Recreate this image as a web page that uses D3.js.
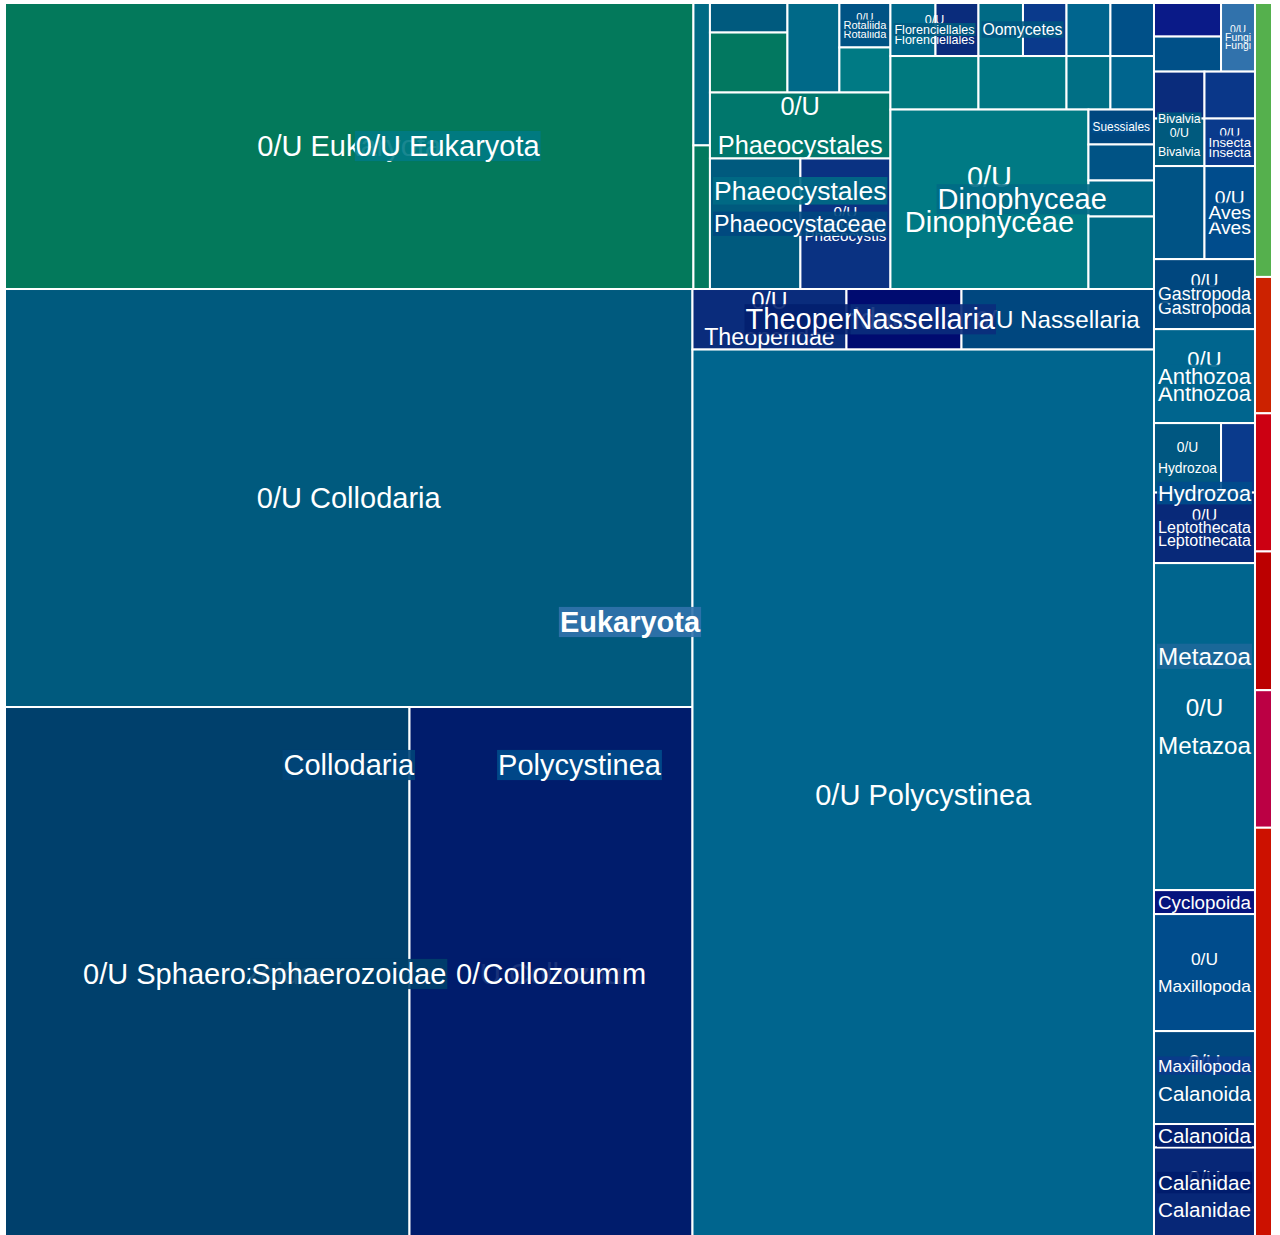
<!DOCTYPE html>
<html>
<head>
<meta charset="utf-8">
<script src="https://cdn.jsdelivr.net/npm/d3@7"></script>
<style>
  html, body { margin: 0; padding: 0; background: #ffffff; }
  svg { display: block; }
</style>
</head>
<body>
<svg id="chart" width="1280" height="1235"></svg>
<script>
// ---------------- DATA ----------------
// Each row: [id, parentId, label, value (leaf size), colour score]
// Groups carry value 0; leaf sizes were estimated from the rectangle areas.
const rootRows = [
  ["root", null, "", 0, 0],
  ["euk", "root", "Eukaryota", 0, 0.45],
  ["A", "euk", "", 0, 0],
  ["top", "A", "", 0, 0]
];

const topLeftRows = [
  ["g1", "top", "0/U Eukaryota", 0, 0.2],
  ["l_euk", "g1", "0/U Eukaryota", 19691, 0.0],
  ["strip", "g1", "", 0, 0],
  ["s1", "strip", "", 235, 0.3],
  ["s2", "strip", "", 237, 0.02],
  ["col", "g1", "", 0, 0],
  ["tb", "col", "", 0, 0],
  ["c1", "tb", "", 0, 0],
  ["c1a", "c1", "", 229, 0.5],
  ["c1b", "c1", "", 465, 0.03],
  ["c2", "tb", "", 465, 0.33],
  ["c3", "tb", "", 0, 0],
  ["rot", "c3", "Rotaliida", 0, 0.55],
  ["l_rot", "rot", "0/U Rotaliida", 227, 0.55],
  ["c3b", "c3", "", 230, 0.2],
  ["pha", "col", "Phaeocystales", 0, 0.3],
  ["l_pha", "pha", "0/U Phaeocystales", 1191, 0.1],
  ["phc", "pha", "Phaeocystaceae", 0, 0.62],
  ["phc1", "phc", "", 1181, 0.5],
  ["phs", "phc", "Phaeocystis", 0, 0.78],
  ["l_phs", "phs", "0/U Phaeocystis", 1175, 0.76]
];

const topRightRows = [
  ["g2", "top", "", 0, 0],
  ["r1", "g2", "", 0, 0],
  ["flo", "r1", "Florenciellales", 0, 0.5],
  ["l_flo", "flo", "0/U Florenciellales", 239, 0.35],
  ["flo2", "flo", "", 228, 0.8],
  ["oom", "r1", "Oomycetes", 0, 0.52],
  ["oom1", "oom", "", 236, 0.3],
  ["oom2", "oom", "", 231, 0.7],
  ["r1c", "r1", "", 233, 0.4],
  ["r1d", "r1", "", 231, 0.57],
  ["r2", "g2", "", 0, 0],
  ["r2a", "r2", "", 471, 0.18],
  ["r2b", "r2", "", 471, 0.22],
  ["r2c", "r2", "", 235, 0.27],
  ["r2d", "r2", "", 233, 0.4],
  ["din", "g2", "Dinophyceae", 0, 0.3],
  ["l_din", "din", "0/U Dinophyceae", 3554, 0.2],
  ["dc", "din", "", 0, 0],
  ["sue", "dc", "Suessiales", 0, 0.6],
  ["sue1", "sue", "", 229, 0.62],
  ["dc2", "dc", "", 236, 0.55],
  ["dc3", "dc", "", 236, 0.33],
  ["dc4", "dc", "", 475, 0.3]
];

const radiolariaRows = [
  ["poly", "A", "Polycystinea", 0, 0.6],
  ["coll", "poly", "Collodaria", 0, 0.63],
  ["l_coll", "coll", "0/U Collodaria", 28738, 0.5],
  ["sph", "coll", "Sphaerozoidae", 0, 0.65],
  ["l_sph", "sph", "0/U Sphaerozoidae", 21600, 0.65],
  ["clz", "sph", "Collozoum", 0, 0.9],
  ["l_clz", "clz", "0/U Collozoum", 15112, 0.9],
  ["pr", "poly", "", 0, 0],
  ["nas", "pr", "Nassellaria", 0, 0.8],
  ["the", "nas", "Theoperidae", 0, 0.88],
  ["l_the", "the", "0/U Theoperidae", 932, 0.8],
  ["the2", "the", "", 696, 1.0],
  ["l_nas", "nas", "0/U Nassellaria", 1165, 0.62],
  ["l_poly", "pr", "0/U Polycystinea", 41143, 0.4]
];

const opisthokontaRows = [
  ["opi", "euk", "", 0, 0],
  ["fr", "opi", "", 0, 0],
  ["fl", "fr", "", 0, 0],
  ["fl1", "fl", "", 225, 0.95],
  ["fl2", "fl", "", 235, 0.57],
  ["fun", "fr", "Fungi", 0, 0.45],
  ["l_fun", "fun", "0/U Fungi", 233, 0.45],
  ["met", "opi", "Metazoa", 0, 0.47],
  ["m1", "met", "", 0, 0],
  ["biv", "m1", "Bivalvia", 0, 0.5],
  ["biv1", "biv", "", 237, 0.8],
  ["l_biv", "biv", "0/U Bivalvia", 240, 0.5],
  ["m1r", "m1", "", 0, 0],
  ["m1r1", "m1r", "", 237, 0.72],
  ["ins", "m1r", "Insecta", 0, 0.7],
  ["l_ins", "ins", "0/U Insecta", 240, 0.7],
  ["m2", "met", "", 0, 0],
  ["m2a", "m2", "", 470, 0.55],
  ["ave", "m2", "Aves", 0, 0.6],
  ["l_ave", "ave", "0/U Aves", 470, 0.6],
  ["gas", "met", "Gastropoda", 0, 0.62],
  ["l_gas", "gas", "0/U Gastropoda", 707, 0.62],
  ["ant", "met", "Anthozoa", 0, 0.4],
  ["l_ant", "ant", "0/U Anthozoa", 949, 0.4],
  ["hyd", "met", "Hydrozoa", 0, 0.6],
  ["hr", "hyd", "", 0, 0],
  ["l_hyd", "hr", "0/U Hydrozoa", 466, 0.52],
  ["hr2", "hr", "", 236, 0.7],
  ["lep", "hyd", "Leptothecata", 0, 0.8],
  ["l_lep", "lep", "0/U Leptothecata", 712, 0.82],
  ["l_met", "met", "0/U Metazoa", 3303, 0.4],
  ["max", "met", "Maxillopoda", 0, 0.7],
  ["cyc", "max", "Cyclopoida", 0, 0.97],
  ["cyc1", "cyc", "", 242, 0.97],
  ["l_max", "max", "0/U Maxillopoda", 1182, 0.6],
  ["cal", "max", "Calanoida", 0, 0.88],
  ["l_cal", "cal", "0/U Calanoida", 939, 0.62],
  ["cld", "cal", "Calanidae", 0, 0.9],
  ["cld1", "cld", "", 237, 0.88],
  ["l_cld", "cld", "0/U Calanidae", 944, 0.83]
];

const otherRows = [
  ["oth", "root", "", 0, 0],
  ["o1", "oth", "", 466, -0.1],
  ["o2", "oth", "", 232, -0.2],
  ["o3", "oth", "", 235, -0.8],
  ["o4", "oth", "", 236, -0.6],
  ["o5", "oth", "", 234, -1.0],
  ["o6", "oth", "", 703, -0.4]
];

// colour ramp for the score
const scoreStops  = [-1, -0.8, -0.6, -0.4, -0.2, -0.1, 0, 0.1, 0.2, 0.3, 0.4, 0.45, 0.5, 0.6, 0.65, 0.7, 0.8, 0.9, 0.95, 1];
const scoreColors = ["#bb0044", "#cc0012", "#bb0000", "#cc1100", "#cc2200", "#55b04d",
                     "#03795b", "#00776c", "#007a84", "#006a85", "#00658e", "#3172ac",
                     "#005a7e", "#004c8c", "#00406c", "#0a3a8c", "#0a2c7c", "#001c6c",
                     "#0a1a88", "#000b70"];

// ---------------- LAYOUT ----------------
const FONT = "'Liberation Sans', Arial, Helvetica, sans-serif";
// the treemap runs a little past the bottom of the 1235px view, as in the reference
const X0 = 5, Y0 = 3, W = 1267, H = 1238;
const MAXF = 29;

const rows = [...rootRows, ...topLeftRows, ...topRightRows, ...radiolariaRows, ...opisthokontaRows, ...otherRows]
  .map(([id, parent, name, value, score]) => ({ id, parent, name, value, score }));

const root = d3.stratify().id(d => d.id).parentId(d => d.parent)(rows);
root.sum(d => d.value || 0);

const tile = (node, x0, y0, x1, y1) =>
  (x1 - x0 >= y1 - y0 ? d3.treemapDice : d3.treemapSlice)(node, x0, y0, x1, y1);

d3.treemap().tile(tile).size([W, H]).round(false)(root);

const color = d3.scaleLinear().domain(scoreStops).range(scoreColors).clamp(true);

const svg = d3.select("#chart").attr("font-family", FONT);

const measurer = svg.append("text").attr("font-family", FONT).attr("font-size", 100)
  .attr("visibility", "hidden").attr("x", -1000).attr("y", -1000);
function em(str, weight) {
  measurer.attr("font-weight", weight || "normal").text(str);
  return measurer.node().getComputedTextLength() / 100;
}

const g = svg.append("g").attr("transform", `translate(${X0},${Y0})`);

const leaves = root.leaves();

g.append("g").selectAll("rect").data(leaves).join("rect")
  .attr("x", d => d.x0).attr("y", d => d.y0)
  .attr("width", d => d.x1 - d.x0).attr("height", d => d.y1 - d.y0)
  .attr("fill", d => color(d.data.score))
  .attr("stroke", "#ffffff").attr("stroke-width", 2);

// leaf labels
const leafLayer = g.append("g").attr("fill", "#ffffff").attr("text-anchor", "middle");

function fitLeaf(name, box) {
  const w = box.x1 - box.x0, h = box.y1 - box.y0;
  const fullEm = em(name);
  const parts = name.startsWith("0/U ") ? ["0/U", name.slice(4)] : [name];
  const fs1 = Math.min(MAXF, (w - 8) / fullEm, h * 0.4);
  let fs2 = 0;
  if (parts.length > 1) {
    const lineEm = Math.max(...parts.map(p => em(p)));
    fs2 = Math.min(MAXF, (w - 8) / lineEm, h / 2.6);
  }
  return fs1 >= fs2 ? { lines: [name], fs: fs1 } : { lines: parts, fs: fs2 };
}

leaves.filter(d => d.data.name).forEach(d => {
  let box = d;
  let fit = fitLeaf(d.data.name, box);
  // a label too small for its own tile is laid over its parent's tile
  if (fit.fs < 8 && d.parent) { box = d.parent; fit = fitLeaf(d.data.name, box); }
  const cx = (box.x0 + box.x1) / 2, cy = (box.y0 + box.y1) / 2;
  const fs = Math.max(fit.fs, 9);
  if (fit.lines.length === 1) {
    leafLayer.append("text").attr("x", cx).attr("y", cy).attr("dy", "0.35em")
      .attr("font-size", fs).text(fit.lines[0]);
  } else {
    fit.lines.forEach((p, i) => {
      leafLayer.append("text").attr("x", cx).attr("y", cy + (i === 0 ? -1 : 1) * 0.775 * fs)
        .attr("dy", "0.35em").attr("font-size", fs).text(p);
    });
  }
});

// group labels (deepest first, so parents sit on top)
const groups = root.descendants().filter(d => d.children && d.data.name)
  .sort((a, b) => b.depth - a.depth);
const groupLayer = g.append("g");
groups.forEach(d => {
  const weight = d.depth === 1 ? "bold" : "normal";
  const e = em(d.data.name, weight);
  const fs = Math.min(MAXF, (d.x1 - d.x0 - 8) / e);
  const tw = e * fs;
  const cx = (d.x0 + d.x1) / 2, cy = (d.y0 + d.y1) / 2;
  const lg = groupLayer.append("g").attr("transform", `translate(${cx},${cy})`);
  lg.append("rect").attr("x", -tw / 2 - 1).attr("y", -fs * 0.52)
    .attr("width", tw + 2).attr("height", fs * 1.04)
    .attr("fill", color(d.data.score)).attr("fill-opacity", 0.9);
  lg.append("text").attr("text-anchor", "middle").attr("dy", "0.35em")
    .attr("font-size", fs).attr("font-weight", weight).attr("fill", "#ffffff")
    .text(d.data.name);
});
</script>
</body>
</html>
